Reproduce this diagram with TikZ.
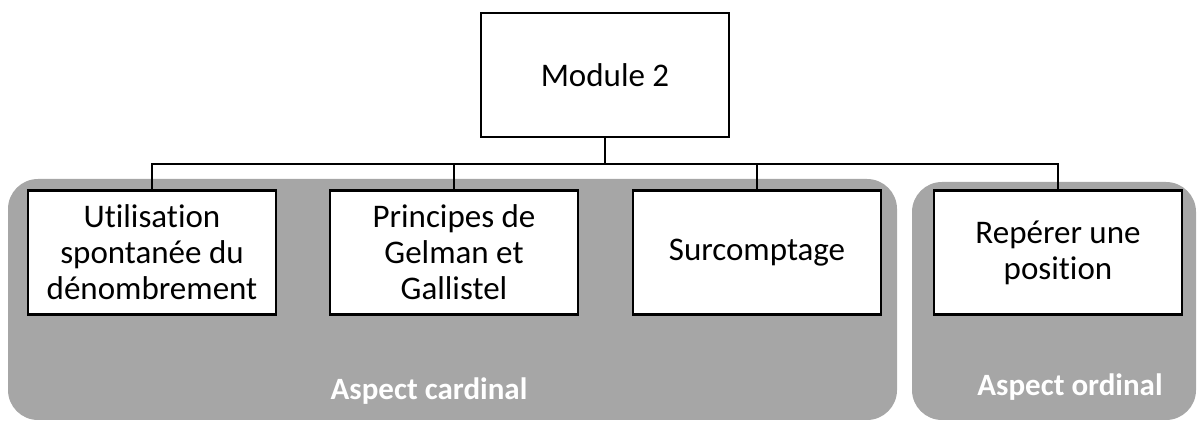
\documentclass[tikz,border=0pt]{standalone}
\usepackage{fontspec}
\setmainfont{Carlito}[Ligatures=NoCommon]
\usetikzlibrary{positioning}
\definecolor{panelgray}{RGB}{166,166,166}
\tikzset{
  box/.style={rectangle, draw, line width=1.2pt, fill=white, minimum width=124pt,
              minimum height=62pt, inner sep=0pt, align=center,
              font=\fontsize{16.5}{18}\selectfont},
  panel/.style={fill=panelgray, rounded corners=15pt},
  link/.style={line width=1pt},
  aspect/.style={font=\fontsize{15.5}{18}\selectfont\bfseries, text=white, anchor=base},
}

\begin{document}
\begin{tikzpicture}[x=0.5pt,y=-0.5pt]
  \useasboundingbox (0,0) rectangle (1198,421);
  \fill[panel] (8,179) rectangle (897,420);
  \fill[panel] (912,182) rectangle (1196,420);
  \node[box] (mod) at (605,75) {Module 2};
  \node[box] (b1) at (152,252.5) {Utilisation\\spontanée du\\dénombrement};
  \node[box] (b2) at (454,252.5) {Principes de\\Gelman et\\Gallistel};
  \node[box] (b3) at (757,252.5) {Surcomptage};
  \node[box] (b4) at (1058,252.5) {Repérer une\\position};
  \coordinate (j) at (605,164);
  \draw[link] (mod.south) -- (j);
  \draw[link] (b1.north) -- (b1.north |- j) -| (b4.north);
  \draw[link] (b2.north) -- (b2.north |- j);
  \draw[link] (b3.north) -- (b3.north |- j);
  \node[aspect] (card) at (429,400) {Aspect cardinal};
  \node[aspect] (ord) at (1070,396) {Aspect ordinal};
\end{tikzpicture}
\end{document}
